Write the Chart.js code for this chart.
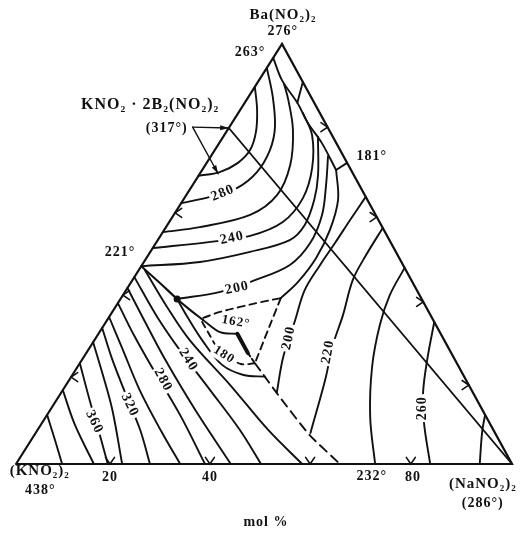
<!DOCTYPE html>
<html><head><meta charset="utf-8">
<script src="https://cdn.jsdelivr.net/npm/chart.js@4.4.1/dist/chart.umd.min.js"></script>
<style>html,body{margin:0;padding:0;background:#fff}canvas{display:block}</style>
</head><body>
<canvas id="c" width="532" height="536"></canvas>
<script>
// Compositions as [mol% (NaNO2)2, mol% Ba(NO2)2]; remainder is (KNO2)2
const triangleEdges = [[0,0],[100,0],[0,100],[0,0]];
const joinCompoundNaNO2 = [[0,80],[100,0]];
const boundary263 = [[0,96.7],[4.6,91.4],[10.6,86.0],[15.3,81.2],[20.7,76.4],[27.0,70.0]];
const boundary181 = [[27.0,70.0],[28.3,71.7]];
const boundaryQP = [[27.0,70.0],[31.2,62.9],[33.4,55.7],[34.2,49.0],[33.6,43.3],[32.2,39.5]];
const boundary221 = [[0,47.1],[5.9,43.1],[11.4,39.3],[15.4,36.7],[19.3,34.3]];
const eutecticTop = [[19.1,34.8],[21.7,36.2],[25.1,37.4],[28.9,38.6],[32.2,39.5]];
const eutecticRight = [[32.2,39.5],[33.7,31.9],[35.3,24.0]];
const eutecticLow = [[19.3,34.3],[24.3,31.4],[28.0,31.0]];
const eutecticWedge = [[28.0,31.0],[32.6,26.4]];
const eutecticTail = [[32.6,26.4],[35.3,24.0]];
const boundaryLow = [[35.3,24.0],[45.5,15.2],[55.5,6.9],[65.3,0]];
const iso180 = [[19.4,33.8],[22.8,30.5],[25.3,28.1],[28.9,25.7],[32.6,23.8],[35.3,24.0]];
// compound field
const arc300 = [[0,68.6],[3.8,69.5],[6.3,71.7],[7.1,74.8],[6.0,79.0],[3.4,84.3],[0,89.8]];
const arc280 = [[0,62.1],[5.0,63.6],[9.3,65.7],[11.3,69.5],[11.1,74.8],[9.2,80.2],[4.9,87.4],[0,94.3]];
const arc260 = [[0,55.2],[6.8,56.4],[15.4,59.3],[18.3,64.0],[17.1,71.2],[13.2,79.5],[8.4,86.7],[5.5,90.5]];
const arc240 = [[0,51.4],[10.8,52.9],[18.1,54.3],[22.9,57.6],[23.9,63.3],[21.9,70.5],[17.7,78.3],[13.0,83.6]];
const arc220 = [[0,47.1],[11.3,48.1],[20.1,50.5],[26.6,53.3],[27.7,56.9],[26.4,62.9],[24.0,68.8],[19.1,77.9]];
const arc200 = [[11.4,39.3],[19.2,41.0],[24.4,43.6],[29.8,47.4],[31.1,52.6],[29.9,59.3],[26.9,66.4],[23.6,73.3]];
const baIso = [[9.05,90.95],[10.6,86.0]];
// NaNO2 field
const na200 = [[36.4,63.6],[36.2,58.1],[36.1,52.6],[35.9,47.4],[36.0,41.4],[37.9,34.3],[40.2,25.5],[43.5,16.9]];
const na220 = [[43.8,56.2],[43.9,49.8],[44.4,43.8],[46.9,35.5],[48.7,28.3],[51.6,20.0],[55.4,7.4]];
const na240 = [[53.3,46.7],[53.8,40.2],[55.6,33.1],[59.4,23.1],[65.4,11.2],[72.4,0]];
const na260 = [[66.2,33.8],[69.6,24.8],[73.0,16.9],[77.0,9.8],[83.5,0]];
const na280 = [[88.3,11.7],[89.9,7.6],[93.5,0]];
// KNO2 field
const k200 = [[11.4,39.3],[16.0,34.8],[21.7,29.5],[28.9,23.6],[34.5,21.2],[39.0,20.8]];
const k220 = [[1.2,46.2],[10.4,37.4],[19.2,29.5],[33.1,18.8],[46.5,8.1],[57.7,0]];
const k240 = [[0,44.5],[9.7,35.0],[18.5,27.1],[29.7,17.6],[40.8,8.1],[49.4,0]];
const k260 = [[0,41.9],[7.9,33.8],[16.8,24.8],[29.2,12.9],[43.3,0]];
const k280 = [[0,38.3],[7.3,30.7],[15.2,22.9],[26.8,11.7],[38.1,0]];
const k300 = [[0,35.0],[6.6,27.6],[15.5,17.6],[25.3,7.6],[33.1,0]];
const k320 = [[0,32.4],[5.8,25.2],[13.4,16.4],[20.7,8.1],[27.0,0]];
const k340 = [[0,29.0],[5.6,21.9],[12.5,12.9],[21.4,0]];
const k360 = [[0,24.0],[6.7,15.2],[13.2,6.9],[18.5,0]];
const k380 = [[0,17.6],[6.9,9.3],[15.7,0]];
const k400 = [[0,11.7],[4.8,5.7],[9.3,0]];
// pointers from the compound label
const pointerA = [[-7.4,80.2],[0,80]];
const pointerB = [[-7.4,80.2],[3.7,69.1]];
const markedPoint = [[11.4,39.3]];
// edge arrows
const bottomArrows = [[18.95,0],[39.1,0],[59.3,0],[79.6,0]];
const rightArrows = [[19.8,80.2],[41.2,58.8],[61.4,38.6],[81.2,18.8]];
const leftArrows = [[0,59.8],[0,40.2],[0,20.7]];

const SKEW = 0.5363; // horizontal offset of the Ba(NO2)2 apex per % Ba
const toXY = p => ({x: p[0] + SKEW * p[1], y: p[1]});

const INK = '#111';
function line(pts, o = {}) {
  return {
    data: pts.map(toXY), showLine: true, fill: false, pointRadius: 0,
    borderColor: INK, borderWidth: o.w || 1.9, tension: o.t === undefined ? 0.35 : o.t,
    borderDash: o.dash || [], borderCapStyle: 'round', clip: false
  };
}
const dashed = [7, 5];
const datasets = [
  line(triangleEdges, {w: 2.2, t: 0}),
  line(joinCompoundNaNO2, {w: 1.9, t: 0}),
  line(boundary263), line(boundary181, {t: 0}), line(boundaryQP),
  line(boundary221, {w: 2.1}),
  line(eutecticTop, {dash: dashed}), line(eutecticRight, {dash: dashed, t: 0.2}),
  line(eutecticLow), line(eutecticWedge, {w: 4, t: 0}), line(eutecticTail, {dash: [4, 3], t: 0}),
  line(boundaryLow, {dash: [9, 6], t: 0.2}), line(iso180, {dash: [6, 5]}),
  line(arc300), line(arc280), line(arc260), line(arc240), line(arc220), line(arc200), line(baIso, {t: 0}),
  line(na200), line(na220), line(na240), line(na260), line(na280),
  line(k200), line(k220), line(k240), line(k260), line(k280), line(k300),
  line(k320), line(k340), line(k360), line(k380), line(k400),
  line(pointerA, {w: 1.4, t: 0}), line(pointerB, {w: 1.4, t: 0}),
  {data: markedPoint.map(toXY), showLine: false, pointRadius: 3.5, pointBackgroundColor: INK, pointBorderWidth: 0}
];

const SERIF = "'Liberation Serif','DejaVu Serif',serif";
const labels = [
  {t: 'Ba(NO₂)₂', p: [-3.5, 106.9], s: 15},
  {t: '276°', p: [-1.5, 103.1], s: 14},
  {t: '263°', p: [-5.4, 98.1], s: 14},
  {t: 'KNO₂ · 2B₂(NO₂)₂', p: [-18.8, 85.5], s: 16},
  {t: '(317°)', p: [-12.5, 80.0], s: 14},
  {t: '181°', p: [32.4, 73.3], s: 14},
  {t: '221°', p: [-6.1, 50.5], s: 14},
  {t: '(KNO₂)₂', p: [5.7, -1.7], s: 15},
  {t: '438°', p: [8.2, -6.2], s: 14},
  {t: '20', p: [20.6, -3.1], s: 14},
  {t: '40', p: [40.8, -3.1], s: 14},
  {t: '232°', p: [73.3, -2.9], s: 14},
  {t: '80', p: [81.7, -3.1], s: 14},
  {t: '(NaNO₂)₂', p: [96.7, -4.8], s: 15},
  {t: '(286°)', p: [99.1, -9.3], s: 14},
  {t: 'mol %', p: [57.8, -13.8], s: 14},
  {t: '280', p: [7.1, 64.5], s: 14, r: -22, bg: true},
  {t: '240', p: [14.7, 53.8], s: 14, r: -12, bg: true},
  {t: '200', p: [22.1, 41.9], s: 14, r: -12, bg: true},
  {t: '162°', p: [26.2, 33.8], s: 13, r: 10},
  {t: '180', p: [28.0, 26.0], s: 13, r: 32, bg: true},
  {t: '200', p: [38.9, 30.0], s: 14, r: -78, bg: true},
  {t: '220', p: [48.6, 26.7], s: 14, r: -80, bg: true},
  {t: '260', p: [74.9, 13.3], s: 14, r: -90, bg: true},
  {t: '240', p: [21.4, 24.8], s: 14, r: 58, bg: true},
  {t: '280', p: [18.9, 20.0], s: 14, r: 62, bg: true},
  {t: '320', p: [15.4, 14.05], s: 14, r: 64, bg: true},
  {t: '360', p: [10.4, 10.0], s: 14, r: 64, bg: true}
];
const arrowSets = [
  {pts: bottomArrows, dir: 90},
  {pts: rightArrows, dir: 0},
  {pts: leftArrows, dir: 180}
];

const overlay = {
  id: 'overlay',
  afterDatasetsDraw(chart) {
    const ctx = chart.ctx, xs = chart.scales.x, ys = chart.scales.y;
    const P = c => [xs.getPixelForValue(c[0] + SKEW * c[1]), ys.getPixelForValue(c[1])];
    ctx.save();
    ctx.strokeStyle = INK; ctx.fillStyle = INK; ctx.lineWidth = 1.6; ctx.lineCap = 'round';
    arrowSets.forEach(set => set.pts.forEach(c => {
      const [x, y] = P(c); const a = set.dir * Math.PI / 180, L = 8, sp = 0.6;
      ctx.beginPath();
      ctx.moveTo(x - L * Math.cos(a - sp), y - L * Math.sin(a - sp));
      ctx.lineTo(x, y);
      ctx.lineTo(x - L * Math.cos(a + sp), y - L * Math.sin(a + sp));
      ctx.stroke();
    }));
    [pointerA, pointerB].forEach(pp => {
      const [x0, y0] = P(pp[0]), [x1, y1] = P(pp[1]);
      const a = Math.atan2(y1 - y0, x1 - x0), L = 9, w = 0.28;
      ctx.beginPath();
      ctx.moveTo(x1, y1);
      ctx.lineTo(x1 - L * Math.cos(a - w), y1 - L * Math.sin(a - w));
      ctx.lineTo(x1 - L * Math.cos(a + w), y1 - L * Math.sin(a + w));
      ctx.closePath(); ctx.fill();
    });
    labels.forEach(lb => {
      const [x, y] = P(lb.p);
      ctx.save();
      ctx.translate(x, y);
      if (lb.r) ctx.rotate(lb.r * Math.PI / 180);
      ctx.font = 'bold ' + lb.s + 'px ' + SERIF;
      try { ctx.letterSpacing = '1px'; } catch (e) {}
      ctx.textAlign = 'center'; ctx.textBaseline = 'middle';
      if (lb.bg) {
        const w = ctx.measureText(lb.t).width + 4;
        ctx.fillStyle = '#fff';
        ctx.fillRect(-w / 2, -lb.s / 2 - 1, w, lb.s + 2);
      }
      ctx.fillStyle = INK;
      ctx.fillText(lb.t, 0, 0);
      ctx.restore();
    });
    ctx.restore();
  }
};

new Chart(document.getElementById('c'), {
  type: 'scatter',
  data: {datasets},
  options: {
    responsive: false, animation: false, devicePixelRatio: 1,
    layout: {padding: {left: 16, right: 20, top: 44, bottom: 72}},
    scales: {
      x: {type: 'linear', min: 0, max: 100, display: false},
      y: {type: 'linear', min: 0, max: 100, display: false}
    },
    plugins: {legend: {display: false}, tooltip: {enabled: false}}
  },
  plugins: [overlay]
});
</script>
</body></html>
